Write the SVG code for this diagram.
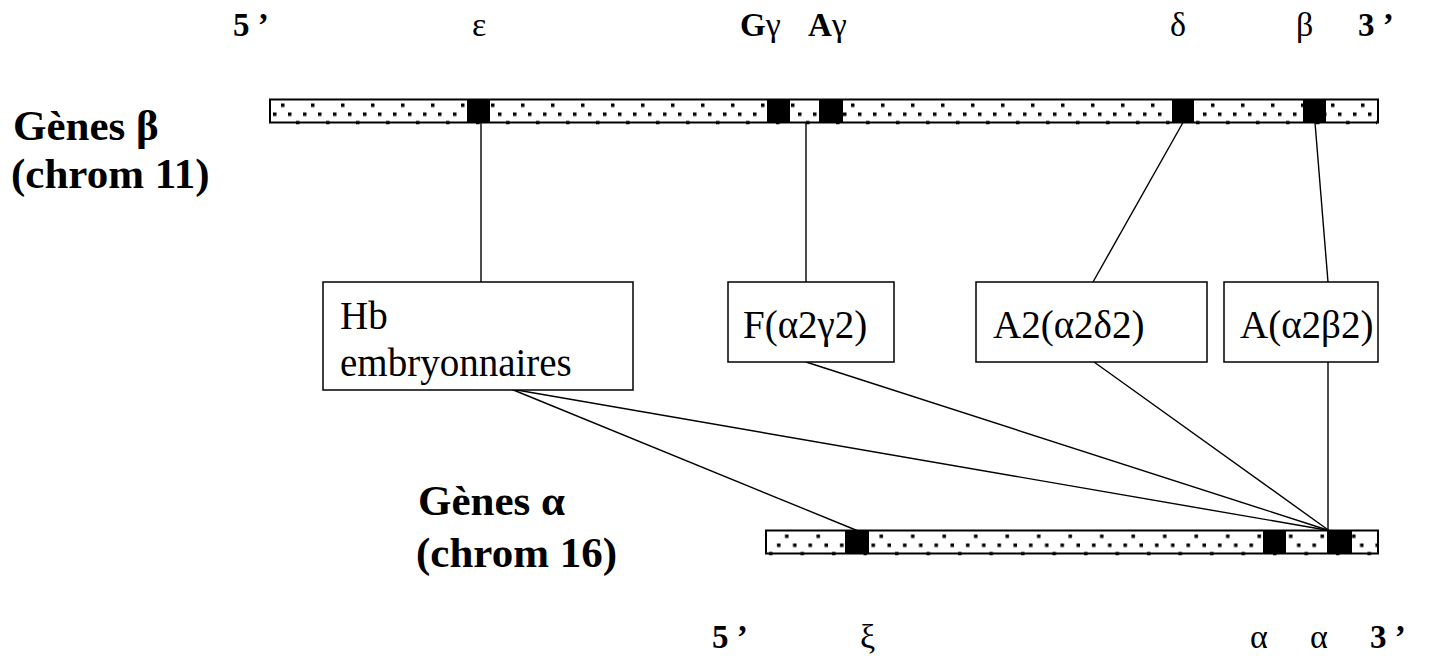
<svg xmlns="http://www.w3.org/2000/svg" width="1456" height="668" viewBox="0 0 1456 668">
  <style>
    text { font-family: "Liberation Serif", "Times New Roman", serif; fill: #000; }
    .lbl { font-size: 33px; font-weight: bold; }
    .grk { font-weight: normal; font-size: 34px; }
    .chrom { font-size: 43px; font-weight: bold; }
    .box { fill: #fff; stroke: #000; stroke-width: 1.5; }
    .boxtxt { font-size: 39px; }
    .bar { fill: #fff; stroke: #000; stroke-width: 2; }
    .gene { fill: #000; }
    .conn line { stroke: #000; stroke-width: 1.4; }
  </style>
  <defs>
    <pattern id="dotsTop" patternUnits="userSpaceOnUse" x="270" y="99.5" width="30" height="26">
      <rect x="11" y="4" width="3.5" height="3.5" fill="#000"/>
      <rect x="3" y="13" width="3.5" height="3.5" fill="#000"/>
      <rect x="18" y="13" width="3.5" height="3.5" fill="#000"/>
      <rect x="26" y="21.5" width="3.5" height="3.5" fill="#000"/>
    </pattern>
    <pattern id="dotsBottom" patternUnits="userSpaceOnUse" x="766" y="530.5" width="31.5" height="26">
      <rect x="19" y="4" width="3.5" height="3.5" fill="#000"/>
      <rect x="11" y="13" width="3.5" height="3.5" fill="#000"/>
      <rect x="27" y="13" width="3.5" height="3.5" fill="#000"/>
      <rect x="3" y="21.5" width="3.5" height="3.5" fill="#000"/>
    </pattern>
  </defs>

  <rect width="1456" height="668" fill="#fff"/>

  <!-- beta-globin cluster, chromosome 11 -->
  <g id="chrom11">
    <rect class="bar" x="270" y="99.5" width="1108" height="23"/>
    <rect x="271" y="100.5" width="1106" height="24" fill="url(#dotsTop)"/>
    <rect class="gene" x="467" y="99.5" width="23" height="23"/>
    <rect class="gene" x="767" y="99.5" width="23" height="23"/>
    <rect class="gene" x="819" y="99.5" width="24" height="23"/>
    <rect class="gene" x="1172" y="99.5" width="22" height="23"/>
    <rect class="gene" x="1303" y="99.5" width="23" height="23"/>
  </g>

  <!-- alpha-globin cluster, chromosome 16 -->
  <g id="chrom16">
    <rect class="bar" x="766" y="530.5" width="612" height="23"/>
    <rect x="767" y="531.5" width="610" height="24" fill="url(#dotsBottom)"/>
    <rect class="gene" x="845" y="530.5" width="24" height="23"/>
    <rect class="gene" x="1263" y="530.5" width="23" height="23"/>
    <rect class="gene" x="1327" y="530.5" width="25" height="23"/>
  </g>

  <!-- gene labels -->
  <g id="labels-top">
    <text class="lbl" x="233" y="36">5 ’</text>
    <text class="lbl grk" x="472" y="36">ε</text>
    <text class="lbl" x="740" y="36">G<tspan class="grk">γ</tspan></text>
    <text class="lbl" x="808" y="36">A<tspan class="grk">γ</tspan></text>
    <text class="lbl grk" x="1170" y="36">δ</text>
    <text class="lbl grk" x="1296" y="36">β</text>
    <text class="lbl" x="1358" y="36">3 ’</text>
  </g>
  <g id="labels-bottom">
    <text class="lbl" x="712" y="648">5 ’</text>
    <text class="lbl grk" x="860" y="648">ξ</text>
    <text class="lbl grk" x="1250" y="648">α</text>
    <text class="lbl grk" x="1310" y="648">α</text>
    <text class="lbl" x="1370" y="648">3 ’</text>
  </g>

  <g id="title-beta">
    <text class="chrom" x="13" y="140">Gènes β</text>
    <text class="chrom" x="11" y="188">(chrom 11)</text>
  </g>
  <g id="title-alpha">
    <text class="chrom" x="418" y="515">Gènes α</text>
    <text class="chrom" x="416" y="567">(chrom 16)</text>
  </g>

  <!-- connectors -->
  <g class="conn" id="connectors">
    <line x1="481" y1="122.5" x2="481" y2="282"/>
    <line x1="806" y1="122.5" x2="806" y2="282"/>
    <line x1="1183" y1="122.5" x2="1093" y2="282"/>
    <line x1="1315" y1="122.5" x2="1328" y2="282"/>
    <line x1="511" y1="389" x2="857" y2="530.5"/>
    <line x1="511" y1="389" x2="1329" y2="530.5"/>
    <line x1="806" y1="362" x2="1329" y2="530.5"/>
    <line x1="1094" y1="362" x2="1329" y2="530.5"/>
    <line x1="1328" y1="362" x2="1328" y2="530.5"/>
  </g>

  <!-- hemoglobin boxes -->
  <g id="hb-embryo">
    <rect class="box" x="323" y="282" width="310" height="108"/>
    <text class="boxtxt" x="340" y="329">Hb</text>
    <text class="boxtxt" x="340" y="376">embryonnaires</text>
  </g>
  <g id="hb-F">
    <rect class="box" x="728" y="282" width="166" height="80"/>
    <text class="boxtxt" x="743" y="338">F(α2γ2)</text>
  </g>
  <g id="hb-A2">
    <rect class="box" x="976" y="282" width="231" height="80"/>
    <text class="boxtxt" x="993" y="338">A2(α2δ2)</text>
  </g>
  <g id="hb-A">
    <rect class="box" x="1224" y="282" width="154" height="80"/>
    <text class="boxtxt" x="1240" y="338">A(α2β2)</text>
  </g>
</svg>
